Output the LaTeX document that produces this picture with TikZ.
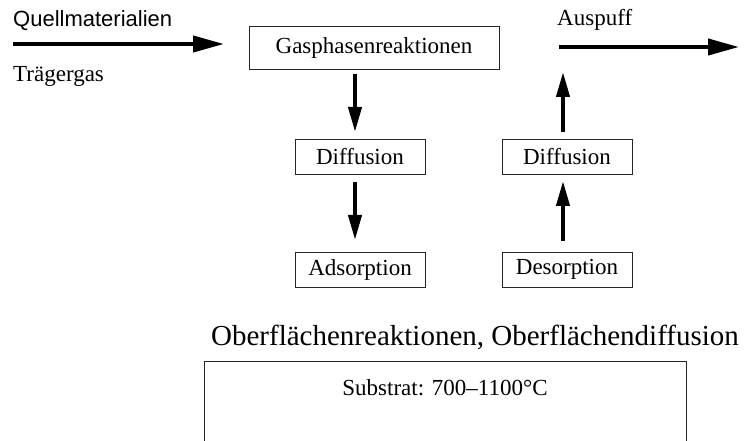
\documentclass[tikz,border=0pt]{standalone}
\usepackage{fontspec}
\setmainfont{Liberation Serif}
\newfontfamily\helv{Liberation Sans}
\usetikzlibrary{arrows.meta}

\tikzset{
  stepbox/.style={draw=black!85, line width=0.9pt, minimum height=35pt, minimum width=130pt,
    inner sep=0pt, font=\fontsize{23}{27}\selectfont},
  label/.style={inner sep=0pt, font=\fontsize{23}{27}\selectfont},
  flowh/.style={line width=4pt, -{Triangle[length=31pt,width=16pt]}},
  flowv/.style={line width=4pt, -{Triangle[length=25pt,width=13pt]}},
}

\begin{document}
\begin{tikzpicture}[x=1pt, y=-1pt]
  \useasboundingbox (0,0) rectangle (748,441);

  % incoming gas
  \node[label, anchor=base west, font=\helv\fontsize{22}{26}\selectfont] (quell) at (13,27) {Quellmaterialien};
  \node[label, anchor=base west] (traeger) at (13,82) {Trägergas};
  \coordinate (inS) at (13,44);
  \coordinate (inE) at (224,44);
  \draw[flowh] (inS) -- (inE);

  % gas phase
  \node[stepbox, minimum width=250pt, minimum height=43pt] (gas) at (374,47.5) {Gasphasenreaktionen};

  % left column: transport to the surface
  \node[stepbox] (difL) at (360,156.5) {Diffusion};
  \node[stepbox] (ads) at (360,269.5) {Adsorption};
  \coordinate (d1s) at (355,74);
  \coordinate (d1e) at (355,132);
  \coordinate (d2s) at (355,182);
  \coordinate (d2e) at (355,240);
  \draw[flowv] (d1s) -- (d1e);
  \draw[flowv] (d2s) -- (d2e);

  % right column: transport away from the surface
  \node[stepbox] (difR) at (567,156.5) {Diffusion};
  \node[stepbox] (des) at (567,269.5) {Desorption};
  \coordinate (u1s) at (563,241);
  \coordinate (u1e) at (563,181);
  \coordinate (u2s) at (563,132);
  \coordinate (u2e) at (563,72);
  \draw[flowv] (u1s) -- (u1e);
  \draw[flowv] (u2s) -- (u2e);

  % exhaust
  \node[label, anchor=base west] (aus) at (557,26) {Auspuff};
  \coordinate (outS) at (559,47);
  \coordinate (outE) at (739,47);
  \draw[flowh] (outS) -- (outE);

  % surface and substrate
  \node[label, anchor=base, font=\fontsize{29}{34}\selectfont] (surf) at (475,345)
    {Oberflächenreaktionen, Oberflächendiffusion};
  \coordinate (subBL) at (204,441);
  \coordinate (subTL) at (204,361);
  \coordinate (subTR) at (686,361);
  \coordinate (subBR) at (686,441);
  \draw[black!85, line width=0.9pt] (subBL) -- (subTL) -- (subTR) -- (subBR);
  \node[label] (sub) at (445,388) {Substrat: 700--1100°C};
\end{tikzpicture}
\end{document}
